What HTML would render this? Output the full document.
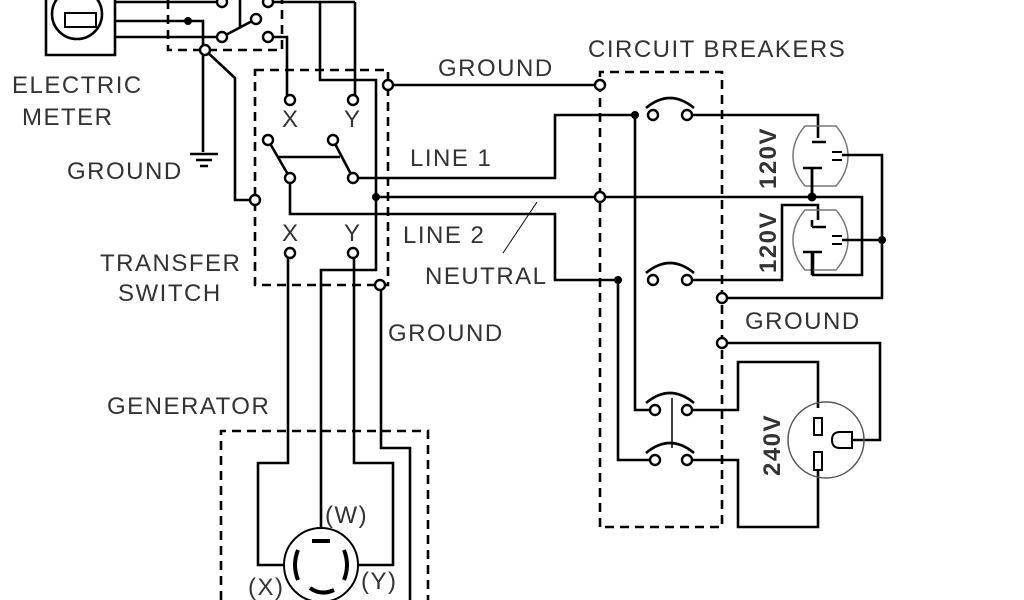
<!DOCTYPE html>
<html><head><meta charset="utf-8"><style>
html,body{margin:0;padding:0;background:#fff;}
svg{display:block;}
text{font-family:"Liberation Sans",sans-serif;fill:#333;font-size:24px;letter-spacing:1.5px;}
</style></head><body>
<svg width="1024" height="600" viewBox="0 0 1024 600" xmlns="http://www.w3.org/2000/svg">
<g fill="none" stroke="#000" stroke-width="2.6">
<path d="M46 -5 V55 H115 V-5"/>
<circle cx="77" cy="14" r="25"/>
<rect x="65" y="13" width="31" height="14" stroke-width="2"/>
<path d="M115 2 H222 M115 21 H203 V50 M115 37 H222"/>
<path d="M168 0 V50 H282 V0" stroke-dasharray="9,6"/>
<path d="M222 37 L256 19 M240 0 V27"/>
<path d="M268 2 H355 M268 37 H287 V100"/>
<path d="M320 2 V80 H376 V270 H321 V528"/>
<path d="M355 2 V100"/>
<path d="M203 50 V152 M190 154 H218 M196 160 H212 M200 166 H208"/>
<path d="M205 50 L235 78 V200 H255"/>
<path d="M255 70 H388 V285 H255 Z" stroke-dasharray="9,6"/>
<path d="M268 140 L290 178 M333 140 L353 178 M278 157 H340"/>
<path d="M353 178 H555 V115 H635"/>
<path d="M290 178 V214 H555 V280 H618"/>
<path d="M376 197 H600"/>
<path d="M388 85 H600"/>
<path d="M288 253 V463 H258 V565 H285"/>
<path d="M354 253 V463 H393 V565 H358"/>
<path d="M381 285 V448 H410 V600"/>
<path d="M221 600 V431 H428 V600" stroke-dasharray="9,6"/>
<circle cx="321" cy="565" r="37" stroke-width="2"/>
<path d="M312 541 H330 M298 550 Q292 565 298 580 M344 550 Q350 565 344 580 M310 588 Q321 596 334 590" stroke-width="4"/>
<path d="M600 527 V72 H722 V527 Z" stroke-dasharray="9,6"/>
<path d="M600 197 H812 H862 V275 H813 V252"/>
<path d="M812 197 V168"/>
<path d="M687 115 H818 V138"/>
<path d="M635 115 V410 H650"/>
<path d="M618 280 V460 H650"/>
<path d="M687 280 H782 V205 H818 V220"/>
<path d="M646 108 Q670 88 694 108 M646 273 Q670 253 694 273 M646 403 Q670 383 694 403 M646 453 Q670 433 694 453"/>
<path d="M672 398 V448" stroke-width="1.5"/>
<path d="M805 126 H836 Q848 140 848 156 Q848 172 836 186 H805 Q793 172 793 156 Q793 140 805 126 Z" stroke="#777" stroke-width="1.5"/>
<path d="M805 210 H836 Q848 224 848 240 Q848 256 836 270 H805 Q793 256 793 240 Q793 224 805 210 Z" stroke="#777" stroke-width="1.5"/>
<path d="M812 142 H826 M803 168 H822 M812 168 V197 M812 227 H826 M812 220 V227 M803 252 H822 M812 252 V275"/>
<path d="M832 152 H842 M832 160 H842 M832 236 H842 M832 244 H842" stroke-width="2"/>
<path d="M842 155 H882 V298 H722 M842 240 H882"/>
<path d="M722 343 H880 V440 H852"/>
<path d="M687 410 H738 V362 H818 V408 M687 460 H738 V527 H818 V470"/>
<circle cx="826" cy="440" r="38" stroke="#555" stroke-width="1.5"/>
<rect x="814" y="418" width="8" height="17" stroke-width="2"/>
<rect x="814" y="452" width="8" height="18" stroke-width="2"/>
<path d="M852 432 H840 Q832 432 832 440 Q832 448 840 448 H852 Z" stroke-width="2"/>
<path d="M537 202 L503 253" stroke-width="1"/>
</g>
<g fill="#000"><circle cx="188" cy="21" r="4"/><circle cx="376" cy="197" r="4"/><circle cx="635" cy="115" r="4"/><circle cx="618" cy="280" r="4"/><circle cx="812" cy="197" r="4.5"/><circle cx="882" cy="240" r="4"/></g>
<g fill="#fff" stroke="#000" stroke-width="2.4">
<circle cx="222" cy="2" r="5"/><circle cx="268" cy="2" r="5"/><circle cx="222" cy="37" r="5"/><circle cx="256" cy="19" r="5"/><circle cx="268" cy="37" r="5"/><circle cx="205" cy="50" r="5"/>
<circle cx="290" cy="100" r="5"/><circle cx="353" cy="100" r="5"/><circle cx="268" cy="140" r="5"/><circle cx="333" cy="140" r="5"/><circle cx="290" cy="178" r="5"/><circle cx="353" cy="178" r="5"/>
<circle cx="255" cy="200" r="5"/><circle cx="290" cy="253" r="5"/><circle cx="353" cy="253" r="5"/><circle cx="388" cy="85" r="5"/><circle cx="380" cy="285" r="5"/>
<circle cx="600" cy="85" r="5"/><circle cx="600" cy="197" r="5"/><circle cx="722" cy="298" r="5"/><circle cx="722" cy="343" r="5"/>
<circle cx="653" cy="115" r="5"/><circle cx="687" cy="115" r="5"/><circle cx="653" cy="280" r="5"/><circle cx="687" cy="280" r="5"/>
<circle cx="655" cy="410" r="5"/><circle cx="687" cy="410" r="5"/><circle cx="655" cy="460" r="5"/><circle cx="687" cy="460" r="5"/>
</g>
<text x="12" y="93">ELECTRIC</text><text x="22" y="125">METER</text>
<text x="67" y="179">GROUND</text>
<text x="100" y="271">TRANSFER</text><text x="118" y="301">SWITCH</text>
<text x="282" y="127" font-size="22">X</text><text x="344" y="127" font-size="22">Y</text>
<text x="282" y="241" font-size="22">X</text><text x="344" y="241" font-size="22">Y</text>
<text x="438" y="76">GROUND</text>
<text x="588" y="57">CIRCUIT BREAKERS</text>
<text x="410" y="166">LINE 1</text>
<text x="403" y="243">LINE 2</text>
<text x="425" y="284">NEUTRAL</text>
<text x="388" y="341">GROUND</text>
<text x="745" y="329">GROUND</text>
<text x="107" y="414">GENERATOR</text>
<text x="325" y="523">(W)</text>
<text x="248" y="595">(X)</text>
<text x="361" y="589">(Y)</text>
<g font-weight="bold" font-size="21" style="letter-spacing:0.5px">
<text transform="translate(776,158) rotate(-90)" text-anchor="middle">120V</text>
<text transform="translate(776,242) rotate(-90)" text-anchor="middle">120V</text>
<text transform="translate(780,445) rotate(-90)" text-anchor="middle">240V</text>
</g>
</svg>
</body></html>
